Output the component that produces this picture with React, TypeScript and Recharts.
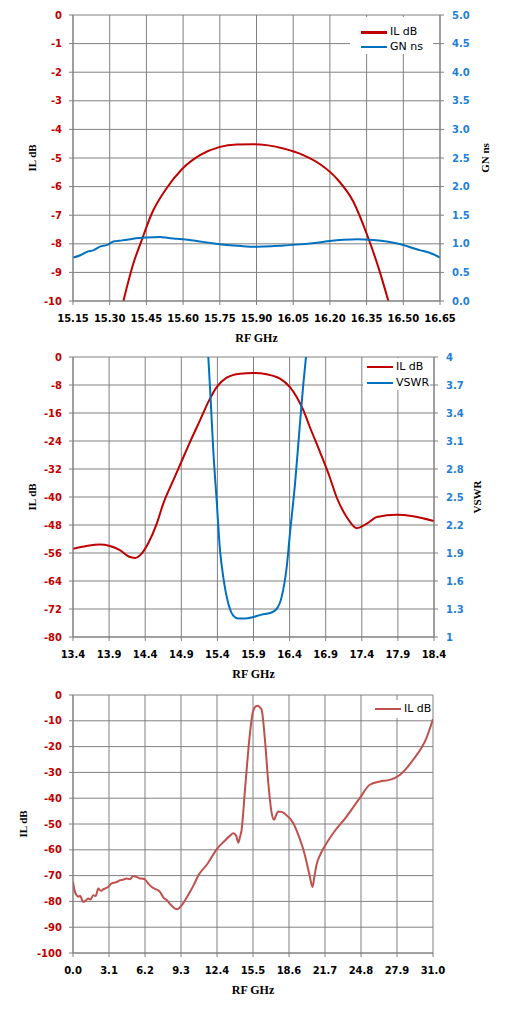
import React from 'react';
import { LineChart, Line, XAxis, YAxis, CartesianGrid, Legend } from 'recharts';

// ---- chart 1: passband close-up (IL + group delay)
const il1Freq = [15.356, 15.397, 15.431, 15.472, 15.529, 15.594, 15.669, 15.751, 15.819, 15.887, 15.941, 16.01, 16.091, 16.16, 16.228, 16.296, 16.35, 16.404, 16.439];
const il1Db = [-10, -8.68, -7.87, -6.94, -6.1, -5.4, -4.9, -4.61, -4.53, -4.52, -4.55, -4.67, -4.9, -5.22, -5.72, -6.53, -7.64, -8.98, -10];
const gnFreq = [15.15, 15.18, 15.206, 15.235, 15.26, 15.29, 15.315, 15.35, 15.383, 15.42, 15.45, 15.505, 15.54, 15.574, 15.62, 15.669, 15.72, 15.778, 15.84, 15.9, 15.96, 16.01, 16.08, 16.146, 16.2, 16.255, 16.31, 16.378, 16.432, 16.47, 16.5, 16.535, 16.568, 16.61, 16.65];
const gnNs = [0.76, 0.8, 0.86, 0.89, 0.95, 0.98, 1.04, 1.06, 1.08, 1.1, 1.11, 1.12, 1.1, 1.09, 1.07, 1.04, 1.01, 0.98, 0.96, 0.95, 0.955, 0.97, 0.99, 1.02, 1.05, 1.07, 1.08, 1.065, 1.04, 1.01, 0.98, 0.93, 0.89, 0.84, 0.76];
const x1Ticks = [15.15, 15.3, 15.45, 15.6, 15.75, 15.9, 16.05, 16.2, 16.35, 16.5, 16.65];
const il1Ticks = [0, -1, -2, -3, -4, -5, -6, -7, -8, -9, -10];
const gnTicks = [0, 0.5, 1, 1.5, 2, 2.5, 3, 3.5, 4, 4.5, 5];

// ---- chart 2: IL + VSWR
const il2Freq = [13.4, 13.59, 13.77, 13.91, 14.05, 14.17, 14.26, 14.35, 14.44, 14.56, 14.65, 14.79, 14.9, 15.02, 15.159, 15.297, 15.39, 15.529, 15.713, 15.897, 16.083, 16.267, 16.405, 16.498, 16.59, 16.68, 16.82, 16.95, 17.05, 17.19, 17.33, 17.47, 17.61, 17.88, 18.11, 18.4];
const il2Db = [-54.8, -54.0, -53.6, -54.0, -55.2, -57.0, -57.4, -56.2, -53.3, -47.6, -41.9, -35.2, -30.0, -24.3, -18.1, -11.9, -8.6, -5.9, -4.76, -4.57, -4.95, -6.2, -8.6, -11.4, -15.2, -20.0, -27.1, -34.0, -40.0, -45.7, -48.9, -47.6, -45.7, -45.1, -45.5, -46.9];
const vswrFreq = [15.274, 15.307, 15.343, 15.39, 15.436, 15.482, 15.551, 15.62, 15.69, 15.782, 15.897, 16.014, 16.13, 16.22, 16.29, 16.36, 16.405, 16.475, 16.544, 16.59, 16.627];
const vswrVal = [4.0, 3.54, 3.0, 2.46, 1.93, 1.64, 1.36, 1.23, 1.197, 1.197, 1.214, 1.24, 1.257, 1.3, 1.43, 1.75, 2.11, 2.64, 3.29, 3.71, 4.0];
const x2Ticks = [13.4, 13.9, 14.4, 14.9, 15.4, 15.9, 16.4, 16.9, 17.4, 17.9, 18.4];
const il2Ticks = [0, -8, -16, -24, -32, -40, -48, -56, -64, -72, -80];
const vswrTicks = [1, 1.3, 1.6, 1.9, 2.2, 2.5, 2.8, 3.1, 3.4, 3.7, 4];

// ---- chart 3: wideband IL
const il3Freq = [0, 0.17, 0.3, 0.46, 0.6, 0.89, 1.1, 1.32, 1.5, 1.75, 1.95, 2.18, 2.3, 2.47, 2.6, 2.76, 3.0, 3.33, 3.7, 4.05, 4.3, 4.62, 4.9, 5.19, 5.5, 5.77, 6.0, 6.2, 6.5, 6.78, 7.1, 7.49, 7.8, 8.07, 8.4, 8.78, 9.0, 9.36, 9.7, 10.08, 10.4, 10.8, 11.6, 12.37, 13.0, 13.5, 13.8, 14.05, 14.24, 14.38, 14.52, 14.81, 15.18, 15.47, 15.65, 15.87, 16.05, 16.24, 16.53, 16.82, 17.11, 17.31, 17.45, 17.68, 17.95, 18.26, 18.97, 19.53, 19.83, 20.1, 20.4, 20.62, 20.8, 20.96, 21.3, 21.6, 22.4, 23.54, 24.69, 25.55, 26.42, 27.27, 28.14, 29.29, 30.43, 31.0];
const il3Db = [-72.4, -76.3, -77.5, -78.2, -77.8, -80.2, -79.6, -78.9, -79.3, -77.6, -77.9, -75.0, -75.6, -75.9, -75.3, -75.0, -74.5, -73.0, -72.6, -71.8, -71.6, -71.1, -71.4, -70.2, -70.6, -71.1, -71.2, -71.5, -73.2, -74.4, -75.2, -76.3, -78.6, -79.5, -81.2, -82.8, -83.0, -81.5, -79.2, -76.3, -73.6, -69.9, -65.3, -59.8, -56.8, -54.6, -53.6, -54.5, -57.3, -55.0, -52.3, -36.8, -17.4, -7.0, -4.8, -4.2, -4.6, -5.7, -17.4, -34.2, -45.8, -48.4, -47.0, -45.2, -45.3, -46.1, -49.7, -55.8, -59.8, -64.5, -70.5, -74.4, -70.0, -66.0, -61.8, -59.2, -53.6, -47.2, -40.0, -34.8, -33.5, -32.9, -31.0, -25.1, -16.7, -9.3];
const x3Ticks = [0, 3.1, 6.2, 9.3, 12.4, 15.5, 18.6, 21.7, 24.8, 27.9, 31.0];
const il3Ticks = [0, -10, -20, -30, -40, -50, -60, -70, -80, -90, -100];

const zip = (xs: number[], ys: number[]) => xs.map((f, i) => ({ f, v: ys[i] }));

const RED = '#c00000';
const BLUE = '#0070c0';
const BLUE_TEXT = '#1f7fd6';
const RED3 = '#c0504d';
const GRID = '#808080';
const tickFont = { fontFamily: 'DejaVu Sans', fontSize: 10, fontWeight: 700 };

const XTitle = (props: any) => {
  const vb = props.viewBox;
  return (
    <text x={vb.x + vb.width / 2} y={vb.y + 37} textAnchor="middle" dominantBaseline="central"
      style={{ fontFamily: 'Liberation Serif', fontSize: 12, fontWeight: 700 }} fill="#000">
      RF GHz
    </text>
  );
};

const YTitle = (props: any) => {
  const { viewBox, text, cx } = props;
  const cy = viewBox.y + viewBox.height / 2;
  return (
    <text x={cx} y={cy} transform={`rotate(-90 ${cx} ${cy})`} textAnchor="middle" dominantBaseline="central"
      style={{ fontFamily: 'Liberation Serif', fontSize: 11, fontWeight: 700 }} fill="#000">
      {text}
    </text>
  );
};

const LegendBox = ({ items, rowH, padT, padL }: any) => (
  <div style={{ background: '#fff', width: '100%', height: '100%', boxSizing: 'border-box', paddingTop: padT, paddingLeft: padL }}>
    {items.map((it: any) => (
      <div key={it.label} style={{ display: 'flex', alignItems: 'center', height: rowH }}>
        <div style={{ width: 26, height: 2.5, background: it.color, marginRight: 3 }} />
        <span style={{ fontFamily: 'DejaVu Sans', fontSize: 11, color: '#000', lineHeight: `${rowH}px` }}>{it.label}</span>
      </div>
    ))}
  </div>
);

const legendAt = (left: number, top: number, width: number, height: number, items: any[], rowH: number, padT: number, padL: number) => (
  <Legend
    layout="horizontal"
    verticalAlign="middle"
    align="center"
    wrapperStyle={{ left, top, width, height, margin: 0, padding: 0 }}
    content={() => <LegendBox items={items} rowH={rowH} padT={padT} padL={padL} />}
  />
);

const xAxisCommon = {
  type: 'number' as const,
  dataKey: 'f',
  allowDataOverflow: true,
  interval: 0 as const,
  tickSize: 4,
  tickMargin: 10,
  stroke: GRID,
  tick: { ...tickFont, fill: '#000' },
};

const Chart1 = () => (
  <LineChart width={509} height={345} margin={{ top: 15, right: 0, bottom: 0, left: 0 }}>
    <CartesianGrid stroke={GRID} yAxisId="l" />
    <XAxis {...xAxisCommon} domain={[15.15, 16.65]} ticks={x1Ticks} height={44}
      tickFormatter={(v: number) => v.toFixed(2)} label={<XTitle />} />
    <YAxis yAxisId="l" orientation="left" width={73} domain={[-10, 0]} ticks={il1Ticks} interval={0}
      allowDataOverflow tickSize={4} tickMargin={7} stroke={GRID} tick={{ ...tickFont, fill: RED }}
      label={<YTitle text="IL dB" cx={32} />} />
    <YAxis yAxisId="r" orientation="right" width={69} domain={[0, 5]} ticks={gnTicks} interval={0}
      allowDataOverflow tickSize={4} tickMargin={8} stroke={GRID} tick={{ ...tickFont, fill: BLUE_TEXT }}
      tickFormatter={(v: number) => v.toFixed(1)} label={<YTitle text="GN ns" cx={485} />} />
    {legendAt(350, 17, 83, 37, [{ label: 'IL dB', color: RED }, { label: 'GN ns', color: BLUE }], 14.5, 8, 11)}
    <Line yAxisId="l" data={zip(il1Freq, il1Db)} dataKey="v" name="IL dB" type="monotone" stroke={RED}
      strokeWidth={2} dot={false} isAnimationActive={false} />
    <Line yAxisId="r" data={zip(gnFreq, gnNs)} dataKey="v" name="GN ns" type="monotone" stroke={BLUE}
      strokeWidth={2} dot={false} isAnimationActive={false} />
  </LineChart>
);

const Chart2 = () => (
  <LineChart width={509} height={345} margin={{ top: 17, right: 0, bottom: 0, left: 0 }}>
    <CartesianGrid stroke={GRID} yAxisId="l" />
    <XAxis {...xAxisCommon} domain={[13.4, 18.4]} ticks={x2Ticks} height={48}
      tickFormatter={(v: number) => v.toFixed(1)} label={<XTitle />} />
    <YAxis yAxisId="l" orientation="left" width={73} domain={[-80, 0]} ticks={il2Ticks} interval={0}
      allowDataOverflow tickSize={4} tickMargin={7} stroke={GRID} tick={{ ...tickFont, fill: RED }}
      label={<YTitle text="IL dB" cx={32} />} />
    <YAxis yAxisId="r" orientation="right" width={75} domain={[1, 4]} ticks={vswrTicks} interval={0}
      allowDataOverflow tickSize={4} tickMargin={8} stroke={GRID} tick={{ ...tickFont, fill: BLUE_TEXT }}
      tickFormatter={(v: number) => String(v)} label={<YTitle text="VSWR" cx={477} />} />
    {legendAt(363, 18, 67, 32, [{ label: 'IL dB', color: RED }, { label: 'VSWR', color: BLUE }], 16, 1, 4)}
    <Line yAxisId="l" data={zip(il2Freq, il2Db)} dataKey="v" name="IL dB" type="monotone" stroke={RED}
      strokeWidth={2} dot={false} isAnimationActive={false} />
    <Line yAxisId="r" data={zip(vswrFreq, vswrVal)} dataKey="v" name="VSWR" type="monotone" stroke={BLUE}
      strokeWidth={2} dot={false} isAnimationActive={false} />
  </LineChart>
);

const Chart3 = () => (
  <LineChart width={509} height={335} margin={{ top: 15, right: 76, bottom: 0, left: 0 }}>
    <CartesianGrid stroke={GRID} />
    <XAxis {...xAxisCommon} domain={[0, 31]} ticks={x3Ticks} height={62}
      tickFormatter={(v: number) => v.toFixed(1)} label={<XTitle />} />
    <YAxis orientation="left" width={73} domain={[-100, 0]} ticks={il3Ticks} interval={0}
      allowDataOverflow tickSize={4} tickMargin={7} stroke={GRID} tick={{ ...tickFont, fill: RED }}
      label={<YTitle text="IL dB" cx={23} />} />
    {legendAt(372, 20, 60, 18, [{ label: 'IL dB', color: RED3 }], 16, 1, 3)}
    <Line data={zip(il3Freq, il3Db)} dataKey="v" name="IL dB" type="monotone" stroke={RED3}
      strokeWidth={2} dot={false} isAnimationActive={false} />
  </LineChart>
);

export default function App() {
  return (
    <div style={{ position: 'absolute', left: 0, top: 0, width: 509, height: 1015, background: '#fff', fontFamily: 'DejaVu Sans' }}>
      <div style={{ position: 'absolute', left: 0, top: 0 }}><Chart1 /></div>
      <div style={{ position: 'absolute', left: 0, top: 340 }}><Chart2 /></div>
      <div style={{ position: 'absolute', left: 0, top: 680 }}><Chart3 /></div>
    </div>
  );
}
